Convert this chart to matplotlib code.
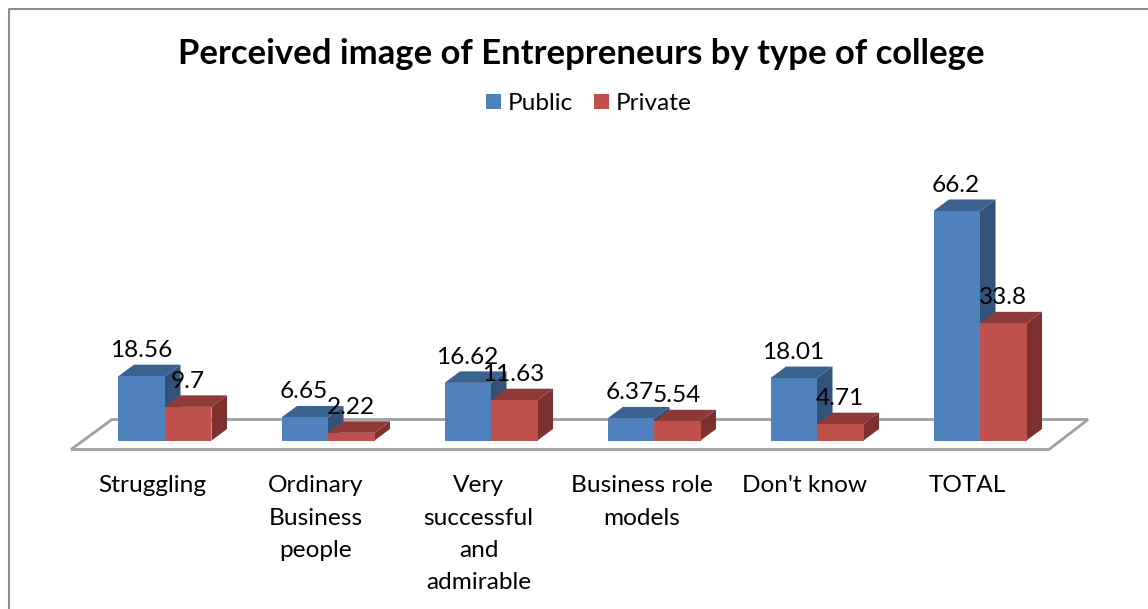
import matplotlib
matplotlib.use('Agg')
import matplotlib.pyplot as plt
from matplotlib.patches import Rectangle, Polygon

categories = ['Struggling', 'Ordinary\nBusiness\npeople', 'Very\nsuccessful\nand\nadmirable',
              'Business role\nmodels', "Don't know", 'TOTAL']
public = [18.56, 6.65, 16.62, 6.37, 18.01, 66.2]
private = [9.7, 2.22, 11.63, 5.54, 4.71, 33.8]
public_labels = ['18.56', '6.65', '16.62', '6.37', '18.01', '66.2']
private_labels = ['9.7', '2.22', '11.63', '5.54', '4.71', '33.8']
title = 'Perceived image of Entrepreneurs by type of college'

W, H = 1148, 609
PX_X, X0 = 163.0, 165.0     # pixels per category, pixel of category 0
PX_Y, Y0 = 3.467, 440.5     # pixels per unit, baseline pixel
plt.rcParams['font.family'] = ['Lato', 'DejaVu Sans']

fig = plt.figure(figsize=(W / 100, H / 100), dpi=100, facecolor='white')
ax = fig.add_axes([0, 0, 1, 1])
ax.set_xlim(-X0 / PX_X, (W - X0) / PX_X)
ax.set_ylim((Y0 - H) / PX_Y, Y0 / PX_Y)
ax.axis('off')

def dx(p): return p / PX_X
def dy(p): return p / PX_Y

# outer frame
ax.plot([dx(8.5) - X0 / PX_X, dx(8.5) - X0 / PX_X, dx(W) - X0 / PX_X],
        [dy(Y0 - H), dy(Y0 - 8.5), dy(Y0 - 8.5)], color='#8c8c8c', lw=1.5, clip_on=False)

# floor
fx = [(p - X0) / PX_X for p in (71, 112, 1088, 1049)]
fy = [(Y0 - p) / PX_Y for p in (449.5, 419.5, 419.5, 449.5)]
ax.add_patch(Polygon(list(zip(fx, fy)), closed=True, fc='white', ec='#a0a0a0', lw=2, zorder=1))

BW = dx(46.5)
DX, DY = dx(15.5), dy(11.5)

def bar3d(x, v, front, top, side):
    ax.add_patch(Polygon([(x + BW, 0), (x + BW + DX, DY), (x + BW + DX, v + DY), (x + BW, v)],
                         fc=side, ec='none', zorder=2))
    ax.add_patch(Polygon([(x, v), (x + DX, v + DY), (x + BW + DX, v + DY), (x + BW, v)],
                         fc=top, ec='none', zorder=2))
    ax.add_patch(Rectangle((x, 0), BW, v, fc=front, ec='none', zorder=2))

for i in range(len(categories)):
    bar3d(i - BW, public[i], '#4f81bd', '#3c6290', '#325279')
    bar3d(i, private[i], '#c0504d', '#8e3a38', '#7c312f')

FS = 17.6
for i in range(len(categories)):
    ax.text(i - BW / 2 - dx(0.6), public[i] + dy(15), public_labels[i], ha='center', va='bottom',
            fontsize=FS, color='black', zorder=5)
    ax.text(i + BW / 2 - dx(0.6), private[i] + dy(15), private_labels[i], ha='center', va='bottom',
            fontsize=FS, color='black', zorder=5)
    ax.text(i - dx(12.5), dy(Y0 - 475.5), categories[i], ha='center', va='top', fontsize=FS,
            linespacing=1.66, color='black', zorder=5)

ax.text(dx(581 - X0), dy(Y0 - 54), title, ha='center', va='center', fontsize=24.9,
        fontweight='bold', color='black')

# legend
for px, tx, c, lab in [(486, 508, '#4f81bd', 'Public'), (594, 616, '#c0504d', 'Private')]:
    ax.add_patch(Rectangle((dx(px - X0), dy(Y0 - 109)), dx(15), dy(15), fc=c, ec='none'))
    ax.text(dx(tx - X0), dy(Y0 - 104), lab, ha='left', va='center', fontsize=FS)

fig.savefig('out.png', dpi=100, facecolor='white')
